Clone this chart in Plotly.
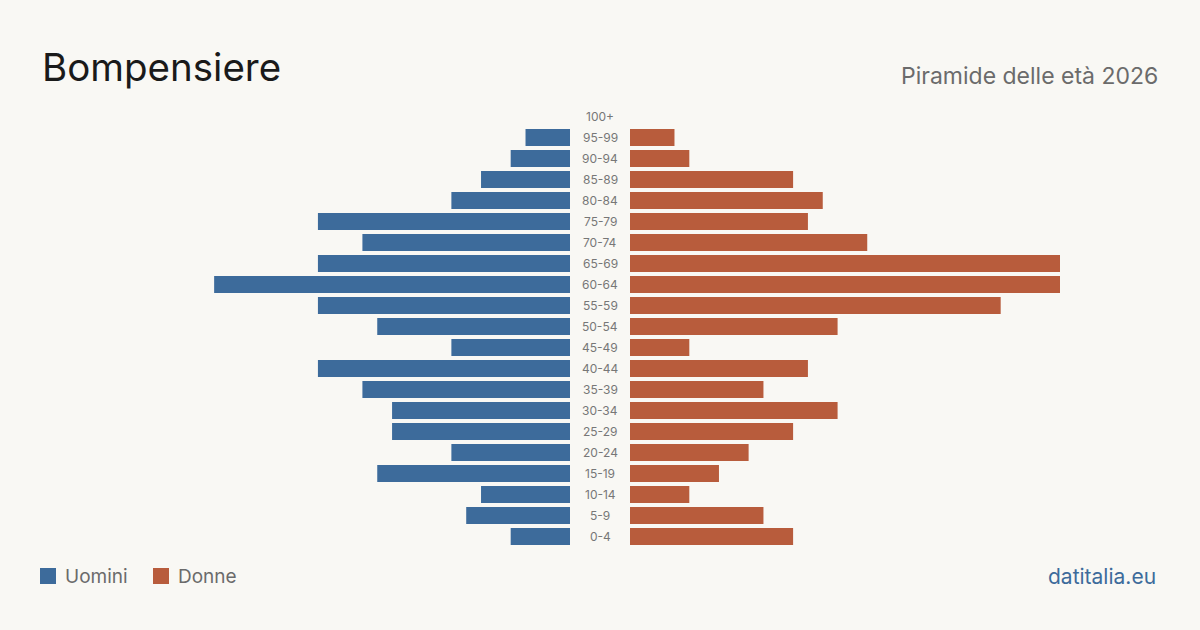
import plotly.graph_objects as go

ages = ["0-4", "5-9", "10-14", "15-19", "20-24", "25-29", "30-34", "35-39", "40-44", "45-49",
        "50-54", "55-59", "60-64", "65-69", "70-74", "75-79", "80-84", "85-89", "90-94", "95-99", "100+"]
uomini = [4, 7, 6, 13, 8, 12, 12, 14, 17, 8, 13, 17, 24, 17, 14, 17, 8, 6, 4, 3, 0]
donne = [11, 9, 4, 6, 8, 11, 14, 9, 12, 4, 14, 25, 29, 29, 16, 12, 13, 11, 4, 3, 0]

BLUE = "#3d6b9b"
ORANGE = "#b85c3c"
BG = "#f9f8f4"
FONT = "Inter, Roboto, sans-serif"
W, H = 1200, 630
xmax = max(max(uomini), max(donne))

fig = go.Figure()
fig.add_trace(go.Bar(y=ages, x=uomini, orientation="h", marker=dict(color=BLUE, line=dict(width=0)),
                     xaxis="x", yaxis="y", showlegend=False, name="Uomini"))
fig.add_trace(go.Bar(y=ages, x=donne, orientation="h", marker=dict(color=ORANGE, line=dict(width=0)),
                     xaxis="x2", yaxis="y", showlegend=False, name="Donne"))

y_top, y_bot = 106, 547
annotations = []
for a in ages:
    annotations.append(dict(x=600 / W, xref="paper", y=a, yref="y", text=a, showarrow=False,
                            xanchor="center", yanchor="middle",
                            font=dict(family=FONT, size=12, color="#777777")))
annotations += [
    dict(x=40 / W, y=1 - 67 / H, xref="paper", yref="paper", text="Bompensiere", showarrow=False,
         xanchor="left", yanchor="middle", font=dict(family=FONT, size=38.5, color="#1a1a1a")),
    dict(x=1160 / W, y=1 - 76 / H, xref="paper", yref="paper", text="Piramide delle età 2026", showarrow=False,
         xanchor="right", yanchor="middle", font=dict(family=FONT, size=23, color="#6b6b6b")),
    dict(x=63 / W, y=1 - 576 / H, xref="paper", yref="paper", text="Uomini", showarrow=False,
         xanchor="left", yanchor="middle", font=dict(family=FONT, size=19, color="#6b6b6b")),
    dict(x=176 / W, y=1 - 576 / H, xref="paper", yref="paper", text="Donne", showarrow=False,
         xanchor="left", yanchor="middle", font=dict(family=FONT, size=19, color="#6b6b6b")),
    dict(x=1158 / W, y=1 - 576 / H, xref="paper", yref="paper", text="datitalia.eu", showarrow=False,
         xanchor="right", yanchor="middle", font=dict(family=FONT, size=21, color="#3d6b9b")),
]
shapes = [
    dict(type="rect", xref="paper", yref="paper", x0=40 / W, x1=56 / W, y0=1 - 584 / H, y1=1 - 568 / H,
         fillcolor=BLUE, line=dict(width=0)),
    dict(type="rect", xref="paper", yref="paper", x0=153 / W, x1=169 / W, y0=1 - 584 / H, y1=1 - 568 / H,
         fillcolor=ORANGE, line=dict(width=0)),
]

fig.update_layout(
    width=W, height=H, paper_bgcolor=BG, plot_bgcolor=BG,
    margin=dict(l=0, r=0, t=0, b=0),
    bargap=0.19,
    xaxis=dict(domain=[140 / W, 570 / W], range=[xmax, 0], visible=False, fixedrange=True),
    xaxis2=dict(domain=[630 / W, 1060 / W], range=[0, xmax], visible=False, fixedrange=True),
    yaxis=dict(domain=[1 - y_bot / H, 1 - y_top / H], visible=False, categoryorder="array",
               categoryarray=ages, range=[-0.5, len(ages) - 0.5]),
    annotations=annotations, shapes=shapes,
)
fig.write_html("out.html")
